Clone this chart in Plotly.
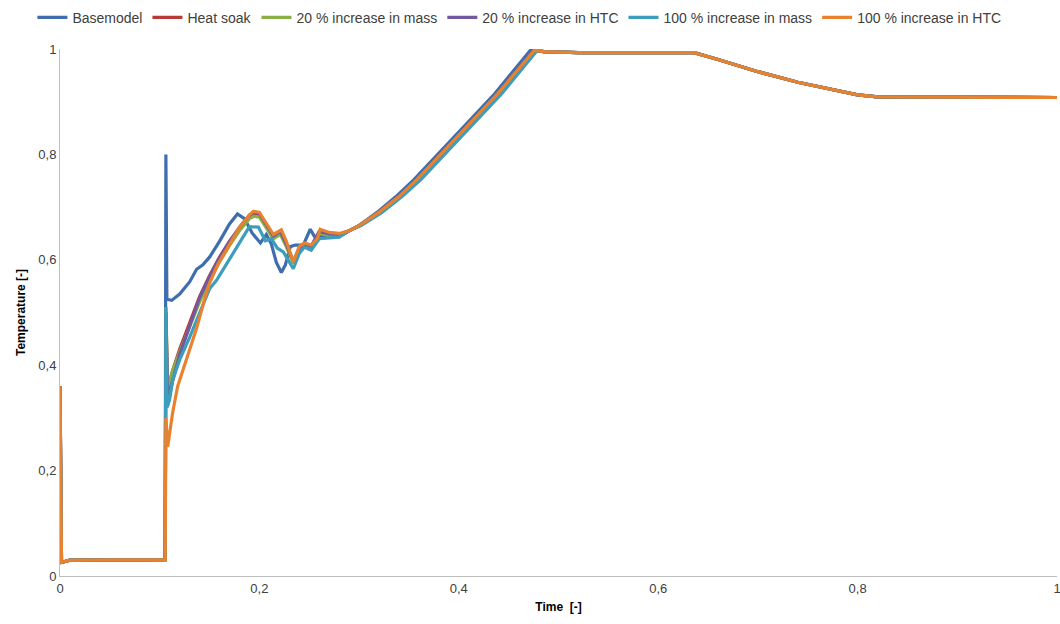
import plotly.graph_objects as go

# ---- data ----
names = ["Basemodel", "Heat soak", "20 % increase in mass", "20 % increase in HTC",
         "100 % increase in mass", "100 % increase in HTC"]
colors = ["#3F6DAE", "#B83A36", "#8AB045", "#7158A0", "#3C9DBC", "#E8822F"]

start_x = [0.0, 0.0015, 0.004, 0.01, 0.1055]
start_y = [0.36, 0.026, 0.027, 0.030, 0.031]

base_mid_x = [0.1062, 0.1072, 0.112, 0.12, 0.13, 0.137, 0.143, 0.15, 0.16, 0.17, 0.178, 0.185,
              0.193, 0.201, 0.207, 0.212, 0.217, 0.222, 0.226, 0.231, 0.236, 0.244, 0.248, 0.251,
              0.255, 0.265, 0.28]
base_mid_y = [0.80, 0.525, 0.523, 0.535, 0.558, 0.582, 0.59, 0.605, 0.635, 0.668, 0.687, 0.678,
              0.65, 0.632, 0.648, 0.63, 0.595, 0.576, 0.59, 0.625, 0.628, 0.628, 0.645, 0.658,
              0.645, 0.644, 0.645]

heat_mid_x = [0.1062, 0.108, 0.113, 0.12, 0.13, 0.14, 0.15, 0.16, 0.17, 0.18, 0.19, 0.195, 0.2,
              0.207, 0.214, 0.221, 0.227, 0.234, 0.24, 0.245, 0.252, 0.26, 0.27, 0.28]
heat_mid_y = [0.50, 0.35, 0.39, 0.43, 0.48, 0.53, 0.57, 0.605, 0.635, 0.66, 0.683, 0.688, 0.686,
              0.665, 0.643, 0.652, 0.628, 0.597, 0.62, 0.628, 0.625, 0.652, 0.648, 0.647]

m20_mid_x = [0.1062, 0.108, 0.113, 0.12, 0.13, 0.14, 0.15, 0.16, 0.17, 0.18, 0.19, 0.195, 0.2,
             0.207, 0.214, 0.221, 0.227, 0.234, 0.24, 0.245, 0.252, 0.26, 0.27, 0.28]
m20_mid_y = [0.51, 0.36, 0.39, 0.425, 0.472, 0.52, 0.56, 0.596, 0.627, 0.655, 0.678, 0.683, 0.681,
             0.66, 0.64, 0.648, 0.625, 0.593, 0.617, 0.626, 0.622, 0.65, 0.646, 0.646]

h20_mid_x = [0.1062, 0.108, 0.113, 0.12, 0.13, 0.14, 0.15, 0.16, 0.17, 0.18, 0.19, 0.195, 0.2,
             0.207, 0.214, 0.221, 0.227, 0.234, 0.24, 0.245, 0.252, 0.26, 0.27, 0.28]
h20_mid_y = [0.50, 0.325, 0.37, 0.42, 0.475, 0.528, 0.568, 0.604, 0.635, 0.662, 0.685, 0.69, 0.688,
             0.667, 0.645, 0.654, 0.63, 0.597, 0.622, 0.63, 0.626, 0.654, 0.649, 0.648]

m100_mid_x = [0.1062, 0.1075, 0.11, 0.113, 0.12, 0.13, 0.14, 0.15, 0.157, 0.165, 0.18, 0.19,
              0.199, 0.206, 0.212, 0.218, 0.224, 0.234, 0.24, 0.245, 0.252, 0.26, 0.27, 0.28]
m100_mid_y = [0.51, 0.32, 0.335, 0.372, 0.41, 0.453, 0.50, 0.545, 0.561, 0.585, 0.632, 0.663,
              0.662, 0.636, 0.64, 0.622, 0.615, 0.583, 0.612, 0.624, 0.618, 0.64, 0.642, 0.643]

h100_mid_x = [0.1062, 0.108, 0.113, 0.118, 0.123, 0.13, 0.137, 0.145, 0.15, 0.158, 0.167, 0.18,
              0.19, 0.194, 0.2, 0.207, 0.214, 0.222, 0.227, 0.234, 0.24, 0.245, 0.252, 0.258,
              0.261, 0.27, 0.28]
h100_mid_y = [0.30, 0.245, 0.31, 0.36, 0.39, 0.43, 0.47, 0.525, 0.556, 0.59, 0.619, 0.662,
              0.685, 0.692, 0.69, 0.67, 0.648, 0.657, 0.635, 0.596, 0.625, 0.632, 0.628, 0.64,
              0.658, 0.652, 0.65]

rise_y = [0.655, 0.665, 0.69, 0.72, 0.752, 0.833, 0.915, 0.998]
base_rise_x = [0.29, 0.30, 0.318, 0.337, 0.355, 0.395, 0.436, 0.472]
std_rise_x = [0.29, 0.30, 0.32, 0.34, 0.358, 0.398, 0.439, 0.476]
m100_rise_x = [0.29, 0.302, 0.323, 0.343, 0.362, 0.402, 0.443, 0.479]

tail_x = [0.485, 0.52, 0.6, 0.636, 0.66, 0.70, 0.74, 0.78, 0.80, 0.82, 0.9, 1.0]
tail_y = [0.995, 0.993, 0.993, 0.993, 0.980, 0.957, 0.937, 0.921, 0.913, 0.909, 0.908, 0.908]

x_ticks = [0, 0.2, 0.4, 0.6, 0.8, 1]
y_ticks = [0, 0.2, 0.4, 0.6, 0.8, 1]
x_tick_text = ["0", "0,2", "0,4", "0,6", "0,8", "1"]
y_tick_text = ["0", "0,2", "0,4", "0,6", "0,8", "1"]

series = [
    (base_mid_x, base_mid_y, base_rise_x),
    (heat_mid_x, heat_mid_y, std_rise_x),
    (m20_mid_x, m20_mid_y, std_rise_x),
    (h20_mid_x, h20_mid_y, std_rise_x),
    (m100_mid_x, m100_mid_y, m100_rise_x),
    (h100_mid_x, h100_mid_y, std_rise_x),
]

fig = go.Figure()
for name, color, (mx, my, rx) in zip(names, colors, series):
    fig.add_trace(go.Scatter(
        x=start_x + mx + rx + tail_x,
        y=start_y + my + rise_y + tail_y,
        mode="lines", name=name,
        line=dict(color=color, width=3.2),
    ))

fig.update_layout(
    width=1060, height=624,
    margin=dict(l=60, r=3, t=49, b=48),
    plot_bgcolor="white", paper_bgcolor="white",
    font=dict(family="Liberation Sans, Arial, sans-serif", size=13, color="#404040"),
    legend=dict(orientation="h", x=0.49, xanchor="center", xref="container",
                y=0.997, yanchor="top", yref="container",
                font=dict(size=14, color="#404040"),
                itemwidth=30, tracegroupgap=0),
    showlegend=True,
)
fig.update_xaxes(range=[0, 1.0], tickmode="array", tickvals=x_ticks, ticktext=x_tick_text,
                 showgrid=False, zeroline=False, showline=True, linecolor="#BFBFBF", linewidth=1,
                 ticks="", tickfont=dict(size=13, color="#404040"), automargin=False,
                 ticklabeloverflow="allow",
                 title=dict(text="<b>Time  [-]</b>", font=dict(size=12, color="#000000"), standoff=8))
fig.update_yaxes(range=[0, 1], tickmode="array", tickvals=y_ticks, ticktext=y_tick_text,
                 showgrid=False, zeroline=False, showline=True, linecolor="#BFBFBF", linewidth=1,
                 ticks="", tickfont=dict(size=13, color="#404040"), automargin=False,
                 ticklabeloverflow="allow",
                 title=dict(text="<b>Temperature [-]</b>", font=dict(size=12, color="#000000"), standoff=10))

fig.write_html("out.html")
